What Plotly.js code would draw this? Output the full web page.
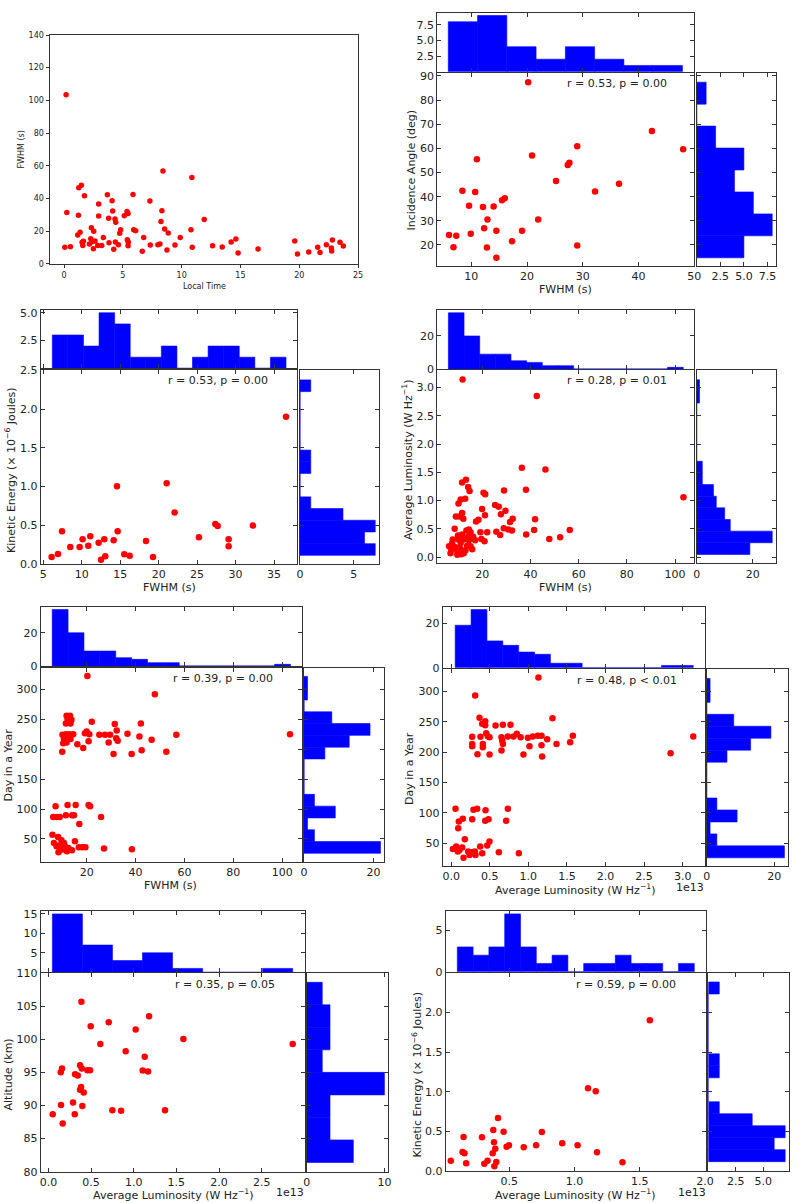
<!DOCTYPE html>
<html><head><meta charset="utf-8">
<script src="https://cdn.plot.ly/plotly-3.0.1.min.js"></script>
<style>html,body{margin:0;padding:0;background:#fff}#chart{width:806px;height:1203px}</style>
</head><body><div id="chart"></div>
<script>
const W=806,H=1203;
// ---------- Panel 1: Local Time vs FWHM ----------
const ltTime=[0.17,0.23,0.06,0.54,1.25,1.47,1.73,1.22,1.36,1.16,1.53,1.59,1.64,2.32,2.52,2.27,2.40,2.15,2.63,2.49,2.94,2.94,2.86,3.20,3.34,3.68,3.79,3.82,4.08,4.13,4.22,4.33,4.39,4.36,4.62,4.81,4.73,5.12,5.35,5.44,5.38,5.46,5.44,5.86,5.92,6.09,6.77,6.65,7.30,7.33,7.98,8.15,8.24,8.32,8.41,8.55,8.86,8.75,9.43,9.88,10.79,10.87,10.90,11.92,12.63,13.45,14.21,14.61,14.80,16.50,19.62,19.85,20.81,21.57,21.77,22.31,22.82,22.73,22.76,23.47,23.75];
const ltFwhm=[103.5,31.4,10.0,10.4,46.5,48.0,41.6,29.6,19.2,17.6,13.1,11.2,13.7,22.0,19.8,15.3,13.5,12.0,13.9,9.2,36.5,29.2,11.2,11.2,16.1,42.2,27.8,12.9,38.6,32.2,8.8,27.3,25.3,13.3,11.6,20.8,18.6,29.4,32.0,30.8,14.7,13.1,11.0,42.4,20.8,20.2,16.1,7.6,38.4,11.4,11.6,12.0,25.9,32.4,56.7,21.2,18.8,8.4,11.4,16.1,20.8,52.7,10.0,27.1,11.0,10.2,13.3,15.1,6.5,9.0,13.9,5.9,7.1,10.0,6.9,11.6,14.5,9.6,7.8,13.1,10.8];
// ---------- Panel 2: FWHM vs Incidence angle ----------
const iaFwhm=[20.2,42.4,29.0,48.0,20.9,11.0,27.6,27.3,25.2,36.5,8.4,10.7,32.2,16.0,15.5,9.6,12.1,14.0,22.0,12.9,12.3,14.5,19.1,17.3,9.9,6.0,7.3,6.8,12.8,29.0,14.5];
const iaAngle=[87.4,67.2,60.9,59.6,57.1,55.5,54.1,53.1,46.5,45.4,42.5,41.9,42.2,39.4,38.5,36.3,35.7,35.9,30.6,30.6,26.9,25.9,25.9,21.6,24.7,24.1,23.8,19.1,19.0,19.8,14.7];
const iaTopStart=5.87, iaTopWidth=5.25, iaTopCounts=[8,9,4,2,4,2,1,1];
const iaRightStart=14.7, iaRightWidth=9.09, iaRightCounts=[5,8,6,4,5,2,0,1];
// ---------- Panel 3: FWHM vs Kinetic energy ----------
const keFwhm=[36.56,21.04,14.58,22.08,7.43,14.67,11.11,10.11,12.93,12.2,14.15,18.35,27.37,27.67,32.26,25.24,29.1,29.1,8.51,9.72,10.85,6.91,6.08,12.5,13.06,15.53,16.23,19.26];
const keEnergy=[1.90,1.043,1.004,0.664,0.422,0.422,0.358,0.319,0.319,0.276,0.306,0.297,0.517,0.491,0.496,0.345,0.319,0.228,0.22,0.22,0.237,0.129,0.09,0.056,0.099,0.125,0.108,0.09];
const keTopStart=6.17, keTopWidth=2.026, keTopCounts=[3,3,2,5,4,1,1,2,0,1,2,2,1,0,1];
const keRightStart=0.112, keRightWidth=0.151, keRightCounts=[7,6,7,4,1,0,0,1,1,0,0,0,0,0,1];
// ---------- Panel 4: FWHM vs Average luminosity ----------
const alFwhm=[36.4,46.2,13.2,11.6,14.1,14.7,20.5,21.2,29.0,38.1,11.0,12.9,10.1,25.3,26.8,19.9,29.6,27.7,11.6,9.0,10.4,12.1,21.1,32.6,41.9,18.4,17.4,31.5,8.5,13.4,14.4,15.1,11.6,9.9,16.2,12.3,14.1,10.0,15.1,19.2,22.0,25.8,27.4,28.9,30.7,32.3,38.2,41.5,47.8,52.3,56.3,19.6,20.9,7.7,6.2,7.1,6.8,8.6,9.6,11.2,12.3,10.7,13.7,15.8,15.1,11.8,42.6,103.5,7.5,11.0,13.0,9.6,14.4,17.0];
const alLum=[1.58,1.55,1.37,1.32,1.24,1.17,1.14,1.11,1.18,1.19,1.02,1.03,0.95,0.92,0.89,0.85,0.82,0.76,0.78,0.72,0.72,0.68,0.74,0.68,0.67,0.66,0.63,0.62,0.50,0.47,0.49,0.44,0.40,0.38,0.36,0.31,0.36,0.31,0.34,0.44,0.44,0.45,0.39,0.51,0.49,0.47,0.40,0.48,0.32,0.35,0.48,0.32,0.28,0.31,0.19,0.13,0.07,0.18,0.11,0.05,0.07,0.16,0.20,0.14,0.19,3.14,2.85,1.06,0.25,0.25,0.12,0.04,0.30,0.30];
const fwTopStart=5.9, fwTopWidth=6.5, fwTopCounts=[34,20,9,9,5,4,2,2,0,0,0,0,0,0,1];
const alRightStart=0.047, alRightWidth=0.206, alRightCounts=[19,27,12,10,7,6,2,2,0,0,0,0,0,1,1];
// ---------- Panel 5: FWHM vs Day in a year ----------
const dyFwhm=[11.8,13.2,12.2,13.8,11.5,13.4,22.1,31.5,42.2,10.1,11.5,12.9,14.5,10.7,12.1,13.4,10.4,11.8,16.2,18.6,19.3,20.0,21.1,20.8,25.2,27.5,29.6,29.0,32.3,32.1,32.7,31.0,36.7,38.4,41.6,42.5,46.6,52.6,56.7,10.0,20.3,47.9,103.2,7.3,12.2,15.5,20.8,21.4,6.3,7.7,9.0,11.5,14.1,14.8,25.9,17.0,6.0,8.3,6.6,9.7,10.7,7.7,9.3,11.1,12.5,8.5,10.3,11.9,14.0,15.2,16.8,18.2,19.5,27.1,38.5,9.0];
const dyDay=[255.6,255.6,250,249,243,243,245.6,242,243,224,225,225,225,217,220,217,210,211,208,202,226.7,229.4,225,213,224,224,224,211,231,218,214,192,225.6,192,221,198,215.6,195.6,224,195.6,322,291.6,224.8,104.4,106.7,106.7,106.7,104.4,86.7,86.7,86.7,89.4,89.4,89.4,86.7,75,57.2,53.3,43.3,47.8,43.3,37.8,35,37.8,35,27.8,32.2,29.4,31.1,46.1,36.1,36.1,36.1,33.9,32.8,39.4];
const dyRightStart=26, dyRightWidth=19.7, dyRightCounts=[22,3,1,9,3,0,0,0,6,13,19,8,0,1,1];
// ---------- Panel 6: Average luminosity vs Day in a year ----------
const ldLum=[0.311,0.367,0.402,0.441,0.441,0.575,0.67,0.769,1.313,0.272,0.272,0.272,0.341,0.38,0.41,0.41,0.454,0.475,0.497,0.497,0.652,0.661,0.67,0.652,0.734,0.808,0.851,0.9,0.994,1.058,1.123,1.171,1.015,1.171,1.244,1.365,0.937,1.179,1.542,1.577,1.131,2.844,3.138,0.056,0.289,0.337,0.445,0.734,0.099,0.151,0.272,0.441,0.484,0.713,0.091,0.177,0.022,0.065,0.108,0.143,0.086,0.16,0.22,0.272,0.307,0.315,0.238,0.376,0.402,0.467,0.497,0.618,0.877];
const ldDay=[293.5,256.6,246.7,251.1,244.5,243.9,245,245,256,225.2,213.6,209.8,196.6,225.2,213.6,208.1,231.3,226.3,224.7,196,224.7,219.1,213.6,202.6,225.8,225.8,230.2,224.7,223.6,225.8,226.9,226.9,209.8,211.4,221.3,213.6,196,192.7,216.4,226.9,323,198.4,225.8,106.7,105,106.7,104.4,106.7,85.8,90.2,89.7,86.9,89.7,86.9,74.8,56.6,40.6,44.5,39,42.8,36.2,26.3,36.2,35.1,36.2,30.7,30.7,44.5,33.5,46.1,52.8,35.1,33.5];
const ldTopStart=0.052, ldTopWidth=0.2057, ldTopCounts=[19,26,12,10,7,6,2,2,0,0,0,0,0,1,1];
const ldRightStart=26, ldRightWidth=19.7, ldRightCounts=[23,3,1,9,3,0,0,0,6,13,19,8,0,1,1];
// ---------- Panel 7: Average luminosity vs Altitude ----------
const atLum=[0.387,0.496,0.707,1.18,1.023,0.609,1.582,2.863,0.906,1.129,0.371,0.391,0.16,0.145,0.457,0.488,1.105,1.168,0.313,0.344,0.383,0.371,0.414,0.289,0.148,0.398,0.051,0.309,0.168,0.75,0.852,1.367];
const atAlt=[105.7,102.0,102.6,103.5,101.5,99.3,100.05,99.3,98.2,97.4,96.1,95.6,95.6,95.05,95.35,95.35,95.3,95.15,94.75,94.55,92.8,92.4,91.97,90.45,90.1,89.95,88.7,88.7,87.3,89.3,89.2,89.3];
const atTopStart=0.047, atTopWidth=0.352, atTopCounts=[15,7,3,5,1,0,0,1];
const atRightStart=81.4, atRightWidth=3.405, atRightCounts=[6,3,3,10,2,3,3,2];
// ---------- Panel 8: Average luminosity vs Kinetic energy ----------
const klLum=[1.577,1.103,1.162,0.413,0.377,0.456,0.749,0.149,0.29,0.382,0.905,1.023,0.705,0.497,0.479,0.61,0.392,0.141,0.156,0.372,1.172,0.051,0.333,0.308,0.169,0.4,0.385,1.367];
const klEnergy=[1.899,1.042,1.004,0.668,0.517,0.496,0.492,0.429,0.424,0.361,0.349,0.324,0.324,0.324,0.307,0.298,0.282,0.24,0.223,0.223,0.235,0.13,0.13,0.092,0.097,0.113,0.059,0.109];
const klTopStart=0.101, klTopWidth=0.1211, klTopCounts=[3,2,3,7,3,1,2,0,1,1,2,1,1,0,1];
const klRightStart=0.118, klRightWidth=0.151, klRightCounts=[7,6,7,4,1,0,0,1,1,0,0,0,0,0,1];
// stats labels
const statTexts=['r = 0.53, p = 0.00','r = 0.53, p = 0.00','r = 0.28, p = 0.01','r = 0.39, p = 0.00','r = 0.48, p < 0.01','r = 0.35, p = 0.05','r = 0.59, p = 0.00'];

const FONT='DejaVu Sans';
const traces=[];
const layout={width:W,height:H,margin:{l:0,r:0,t:0,b:0},showlegend:false,paper_bgcolor:'#fff',plot_bgcolor:'#fff',barmode:'overlay',annotations:[],font:{family:FONT,size:11,color:'#222'}};
let n=0;
function base(extra){return Object.assign({showline:true,mirror:'ticks',linecolor:'#333',linewidth:1,ticks:'inside',ticklen:4,tickcolor:'#333',showgrid:false,zeroline:false,tickfont:{family:FONT,size:11,color:'#222'}},extra);}
function axes(box,xo,yo){
  n++; const s=n===1?'':String(n);
  layout['xaxis'+s]=base(Object.assign({domain:[box[0]/W,box[2]/W],anchor:'y'+s},xo));
  layout['yaxis'+s]=base(Object.assign({domain:[1-box[3]/H,1-box[1]/H],anchor:'x'+s},yo));
  return ['x'+s,'y'+s];
}
function scatter(ax,x,y,size){traces.push({type:'scatter',mode:'markers',x:x,y:y,xaxis:ax[0],yaxis:ax[1],marker:{color:'#ff0000',size:size||6.5},hoverinfo:'skip'});}
function centers(start,w,c){return c.map((_,i)=>start+(i+0.5)*w);}
const BAR={color:'#0000ff',line:{color:'#0000ff',width:0.6}};
function vbar(ax,start,w,c){traces.push({type:'bar',x:centers(start,w,c),y:c,width:w,xaxis:ax[0],yaxis:ax[1],marker:BAR,hoverinfo:'skip'});}
function hbar(ax,start,w,c){traces.push({type:'bar',orientation:'h',y:centers(start,w,c),x:c,width:w,xaxis:ax[0],yaxis:ax[1],marker:BAR,hoverinfo:'skip'});}
function ann(text,px,py,o){layout.annotations.push(Object.assign({text:text,x:px/W,y:1-py/H,xref:'paper',yref:'paper',showarrow:false,xanchor:'center',yanchor:'middle',font:{family:FONT,size:11,color:'#222'}},o||{}));}
function tv(vals,fmt){return {tickvals:vals,ticktext:vals.map(v=>fmt==null?String(v):v.toFixed(fmt))};}
const rng=(a,b,s)=>{const r=[];for(let v=a;v<=b+1e-9;v+=s)r.push(+v.toFixed(6));return r;};
const hidden={showticklabels:false};

// Panel 1
{
 const ax=axes([50,35,358,263.7],
  Object.assign({range:[-1.2,25],ticks:'outside',mirror:true,ticklen:3.5,tickfont:{family:FONT,size:8,color:'#222'}},tv(rng(0,25,5))),
  Object.assign({range:[0,140],ticks:'outside',mirror:true,ticklen:3.5,tickfont:{family:FONT,size:8,color:'#222'}},tv(rng(0,140,20))));
 scatter(ax,ltTime,ltFwhm,5.5);
 ann('Local Time',204,286,{font:{family:FONT,size:8,color:'#222'}});
 ann('FWHM (s)',20.5,150,{textangle:-90,font:{family:FONT,size:8,color:'#222'}});
}
// generic 3-axes panel
function panel(p){
  const main=axes(p.main,Object.assign({range:p.xr},tv(p.xt,p.xf)),Object.assign({range:p.yr},tv(p.yt,p.yf)));
  scatter(main,p.x,p.y);
  const top=axes([p.main[0],p.top[0],p.main[2],p.top[1]],Object.assign({range:p.xr,tickvals:p.xt},hidden),Object.assign({range:p.topr},tv(p.topt,p.topf)));
  vbar(top,p.ts,p.tw,p.tc);
  const right=axes([p.right[0],p.main[1],p.right[1],p.main[3]],Object.assign({range:p.rr},tv(p.rt,p.rf)),Object.assign({range:p.yr,tickvals:p.yt},hidden));
  hbar(right,p.rs,p.rw,p.rc);
  ann(p.stat,p.sp[0],p.sp[1]);
  ann(p.xl,p.xlp[0],p.xlp[1]);
  ann(p.yl,p.ylp[0],p.ylp[1],{textangle:-90});
  if(p.exp) ann('1e13',p.exp[0],p.exp[1]);
}
const LUM='Average Luminosity (W Hz<sup>\u22121</sup>)';
const KE='Kinetic Energy (\u00d7 10<sup>\u22126</sup> Joules)';
// Panel 2
panel({main:[437.3,73.3,694.3,266],top:[12.7,71.7],right:[696.7,776],
 xr:[3.9,50],xt:rng(10,50,10),yr:[11.3,91.1],yt:rng(20,90,10),x:iaFwhm,y:iaAngle,
 topr:[0,9.45],topt:[2.5,5,7.5],topf:1,ts:iaTopStart,tw:iaTopWidth,tc:iaTopCounts,
 rr:[0,8.4],rt:[2.5,5,7.5],rf:1,rs:iaRightStart,rw:iaRightWidth,rc:iaRightCounts,
 stat:statTexts[0],sp:[617,83.5],xl:'FWHM (s)',xlp:[565.7,289],yl:'Incidence Angle (deg)',ylp:[410.5,170]});
// Panel 3
panel({main:[40.7,370,297.3,564],top:[310,368.3],right:[300,379],
 xr:[4.66,38.03],xt:rng(5,35,5),yr:[0,2.505],yt:rng(0,2.5,0.5),yf:1,x:keFwhm,y:keEnergy,
 topr:[0,5.25],topt:[2.5,5],topf:1,ts:keTopStart,tw:keTopWidth,tc:keTopCounts,
 rr:[0,7.35],rt:[0,5],rs:keRightStart,rw:keRightWidth,rc:keRightCounts,
 stat:statTexts[1],sp:[218.5,381],xl:'FWHM (s)',xlp:[169,587],yl:KE,ylp:[10,470]});
// Panel 4
panel({main:[437.3,370,694.3,563.3],top:[310,369],right:[696.7,776],
 xr:[1.3,108],xt:rng(20,100,20),yr:[-0.11,3.31],yt:rng(0,3,0.5),yf:1,x:alFwhm,y:alLum,
 topr:[0,35.7],topt:[0,20],ts:fwTopStart,tw:fwTopWidth,tc:fwTopCounts,
 rr:[0,28.35],rt:[0,20],rs:alRightStart,rw:alRightWidth,rc:alRightCounts,
 stat:statTexts[2],sp:[617,381],xl:'FWHM (s)',xlp:[565.7,587],yl:LUM,ylp:[407,460]});
// Panel 5
panel({main:[40.7,667.7,301.7,861.7],top:[606.7,666],right:[304,384.3],
 xr:[1.2,108],xt:rng(20,100,20),yr:[12,336],yt:rng(50,300,50),x:dyFwhm,y:dyDay,
 topr:[0,35.7],topt:[0,20],ts:fwTopStart,tw:fwTopWidth,tc:fwTopCounts,
 rr:[0,23.1],rt:[0,20],rs:dyRightStart,rw:dyRightWidth,rc:dyRightCounts,
 stat:statTexts[3],sp:[223.5,678.5],xl:'FWHM (s)',xlp:[170,885],yl:'Day in a Year',ylp:[7.5,765]});
// Panel 6
panel({main:[442.7,669,705,865.7],top:[606.7,667.7],right:[706.7,788.3],
 xr:[-0.11,3.29],xt:rng(0,3,0.5),xf:1,yr:[13,337],yt:rng(50,300,50),x:ldLum,y:ldDay,
 topr:[0,27.3],topt:[0,20],ts:ldTopStart,tw:ldTopWidth,tc:ldTopCounts,
 rr:[0,24.15],rt:[0,20],rs:ldRightStart,rw:ldRightWidth,rc:ldRightCounts,
 stat:statTexts[4],sp:[627,680],xl:LUM,xlp:[575,889],yl:'Day in a Year',ylp:[409,768],exp:[690,887]});
// Panel 7
panel({main:[40.7,973.3,305,1171.7],top:[911,972.3],right:[306.7,388.3],
 xr:[-0.09,3.0075],xt:rng(0,2.5,0.5),xf:1,yr:[80,110],yt:rng(80,110,5),x:atLum,y:atAlt,
 topr:[0,15.75],topt:[5,10,15],ts:atTopStart,tw:atTopWidth,tc:atTopCounts,
 rr:[0,10.5],rt:[0,10],rs:atRightStart,rw:atRightWidth,rc:atRightCounts,
 stat:statTexts[5],sp:[225,984.5],xl:LUM,xlp:[173,1194.5],yl:'Altitude (km)',ylp:[7.5,1075],exp:[290,1192.5]});
// Panel 8
panel({main:[445.7,972.7,705.7,1171],top:[911,971.7],right:[708.3,789],
 xr:[0.012,2.005],xt:rng(0.5,2,0.5),xf:1,yr:[0,2.5],yt:rng(0,2,0.5),yf:1,x:klLum,y:klEnergy,
 topr:[0,7.35],topt:[0,5],ts:klTopStart,tw:klTopWidth,tc:klTopCounts,
 rr:[0,7.35],rt:[2.5,5],rf:1,rs:klRightStart,rw:klRightWidth,rc:klRightCounts,
 stat:statTexts[6],sp:[626,984.5],xl:LUM,xlp:[575,1194.5],yl:KE,ylp:[416.5,1075],exp:[691.5,1192.5]});

Plotly.newPlot('chart',traces,layout,{staticPlot:true,displayModeBar:false});
</script></body></html>
